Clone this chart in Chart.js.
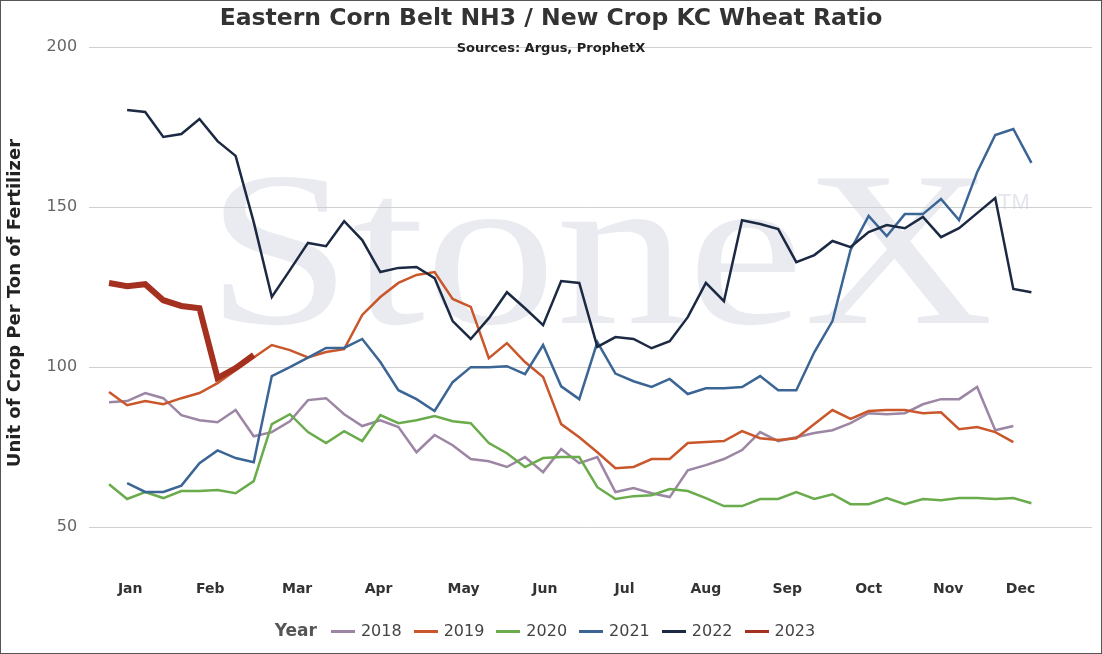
<!DOCTYPE html>
<html>
<head>
<meta charset="utf-8">
<script src="https://cdn.jsdelivr.net/npm/chart.js@4.4.1/dist/chart.umd.min.js"></script>
<style>
  body { margin: 0; background: #fff; font-family: Verdana, "DejaVu Sans", sans-serif; }
  #wrap { position: relative; width: 1100px; height: 652px; border: 1px solid #555; overflow: hidden; }
  #titulo { position: absolute; top: 2px; left: 0; width: 1100px; text-align: center; font-weight: bold; font-size: 23.5px; color: #333; }
  #fuente { position: absolute; top: 39px; left: 0; width: 1100px; text-align: center; font-weight: bold; font-size: 13px; color: #222; }
  #leyenda { position: absolute; top: 619px; left: 0; width: 1100px; text-align: center; font-size: 16px; color: #444; }
  #leyenda b { color: #555; margin-right: 14px; font-size: 17px; }
  #leyenda span { margin-right: 12px; }
  #leyenda i { display: inline-block; width: 24px; height: 3px; vertical-align: middle; margin-right: 6px; }
</style>
</head>
<body>
<div id="wrap">
  <canvas id="grafico" width="1100" height="652"></canvas>
  <div id="titulo">Eastern Corn Belt NH3 / New Crop KC Wheat Ratio</div>
  <div id="fuente">Sources: Argus, ProphetX</div>
  <div id="leyenda"></div>
</div>
<script>
// ===============================
// DATOS
// ===============================

const meses = ["Jan", "Feb", "Mar", "Apr", "May", "Jun", "Jul", "Aug", "Sep", "Oct", "Nov", "Dec"];
const posicionMeses = [1.17, 5.6, 10.4, 14.9, 19.6, 24.1, 28.5, 33, 37.5, 42, 46.4, 50.4];
const ticksY = [50, 100, 150, 200];

const anios = ["2018", "2019", "2020", "2021", "2022", "2023"];
const semanaInicio = [0, 0, 0, 1, 1, 0];

const datos2018 = [89, 89.4, 91.9, 90.3, 85, 83.4, 82.8, 86.6, 78.4, 79.7, 83.1, 89.7, 90.3, 85.3, 81.6, 83.4, 81.3, 73.4, 78.8, 75.6, 71.3, 70.6, 68.8, 71.9, 67.2, 74.4, 70, 71.9, 61, 62.2, 60.6, 59.4, 67.8, 69.4, 71.3, 74.1, 79.7, 76.9, 78.1, 79.4, 80.3, 82.5, 85.6, 85.3, 85.6, 88.4, 90, 90, 93.8, 80.3, 81.6];
const datos2019 = [92.2, 88.1, 89.4, 88.4, 90.3, 91.9, 95, 99, 103, 106.9, 105.3, 103, 104.7, 105.6, 116.3, 121.9, 126.3, 128.8, 129.7, 121.3, 118.8, 102.8, 107.5, 101.6, 96.9, 82.2, 78.1, 73.4, 68.4, 68.8, 71.3, 71.3, 76.3, 76.6, 76.9, 80, 77.8, 77.2, 77.8, 82.2, 86.6, 83.8, 86.3, 86.6, 86.6, 85.6, 85.9, 80.6, 81.3, 79.7, 76.6];
const datos2020 = [63.4, 58.8, 61, 59.1, 61.3, 61.3, 61.6, 60.6, 64.4, 82.2, 85.3, 79.7, 76.3, 80, 76.9, 85, 82.5, 83.4, 84.7, 83.1, 82.5, 76.3, 73.1, 68.8, 71.6, 71.9, 71.9, 62.5, 58.8, 59.7, 60, 61.9, 61.3, 59.1, 56.6, 56.6, 58.8, 58.8, 61, 58.8, 60.3, 57.2, 57.2, 59.1, 57.2, 58.8, 58.4, 59.1, 59.1, 58.8, 59.1, 57.5];
const datos2021 = [63.8, 61, 61, 63, 70, 74, 71.6, 70.3, 97.2, 100, 103, 106, 106, 108.8, 101.6, 92.8, 90, 86.3, 95.3, 100, 100, 100.3, 97.8, 106.9, 94, 90, 107.8, 98, 95.6, 93.8, 96.3, 91.6, 93.4, 93.4, 93.8, 97.2, 92.8, 92.8, 104.7, 114.4, 136.6, 147.2, 140.9, 147.8, 147.8, 152.5, 145.9, 160.9, 172.5, 174.4, 163.8];
const datos2022 = [180.3, 179.7, 171.9, 172.8, 177.5, 170.6, 166, 145.3, 121.9, 130.3, 138.8, 137.8, 145.6, 139.7, 129.7, 131, 131.3, 127.8, 114.4, 108.8, 115.3, 123.4, 118.4, 113.1, 126.9, 126.3, 106.3, 109.4, 108.8, 105.9, 108.1, 115.6, 126.3, 120.6, 145.9, 144.7, 143.1, 132.8, 135, 139.4, 137.5, 142.2, 144.4, 143.4, 146.9, 140.6, 143.4, 148.1, 152.8, 124.4, 123.4];
const datos2023 = [126.3, 125.3, 125.9, 120.9, 119.1, 118.4, 96.6, 99.7, 103.8];

const series = [datos2018, datos2019, datos2020, datos2021, datos2022, datos2023];
const colores = ["#9c86a4", "#c9572b", "#6aab4c", "#3b6595", "#1c2942", "#a4301f"];
const grosores = [2.5, 2.5, 2.5, 2.5, 2.5, 6];

// ===============================
// MARCA DE AGUA
// ===============================

const marcaAgua = {
  id: "marcaAgua",
  beforeDatasetsDraw(chart) {
    const c = chart.ctx;
    c.save();
    c.fillStyle = "rgba(200, 205, 218, 0.4)";
    c.translate(205, 322);
    c.scale(1.25, 1.05);
    c.font = "210px 'Liberation Serif', serif";
    c.fillText("StoneX", 0, 0);
    c.restore();
    c.save();
    c.fillStyle = "rgba(200, 205, 218, 0.5)";
    c.font = "22px 'Liberation Sans', sans-serif";
    c.fillText("TM", 997, 208);
    c.restore();
  }
};

// ===============================
// GRÁFICA
// ===============================

const conjuntos = anios.map(function (anio, i) {
  return {
    label: anio,
    data: series[i].map(function (v, j) { return { x: j + semanaInicio[i], y: v }; }),
    borderColor: colores[i],
    backgroundColor: colores[i],
    borderWidth: grosores[i],
    pointRadius: 0,
    tension: 0,
    order: i === 5 ? 0 : 6 - i
  };
});

const ctx = document.getElementById("grafico").getContext("2d");

new Chart(ctx, {
  type: "line",
  data: { datasets: conjuntos },
  options: {
    responsive: false,
    animation: false,
    layout: { padding: { top: 46, right: 9, bottom: 41, left: 0 } },
    plugins: { legend: { display: false }, tooltip: { enabled: false } },
    scales: {
      x: {
        type: "linear",
        min: -1.1,
        max: 54.35,
        grid: { display: false },
        border: { display: false },
        afterBuildTicks: function (eje) {
          eje.ticks = posicionMeses.map(function (p) { return { value: p }; });
        },
        ticks: {
          autoSkip: false,
          maxRotation: 0,
          padding: 14,
          color: "#333",
          font: { family: "Verdana, 'DejaVu Sans'", size: 14, weight: "bold" },
          callback: function (valor, indice) { return meses[indice]; }
        }
      },
      y: {
        min: 40,
        max: 200,
        afterBuildTicks: function (eje) {
          eje.ticks = ticksY.map(function (v) { return { value: v }; });
        },
        grid: { color: "#d0d0d0", drawTicks: false },
        border: { display: false },
        ticks: { padding: 12, color: "#666", font: { family: "Verdana, 'DejaVu Sans'", size: 16 } },
        title: {
          display: true,
          text: "Unit of Crop Per Ton of Fertilizer",
          color: "#222",
          font: { family: "Verdana, 'DejaVu Sans'", size: 18, weight: "bold" },
          padding: { top: 4, bottom: 8 }
        }
      }
    }
  },
  plugins: [marcaAgua]
});

// ===============================
// LEYENDA
// ===============================

let htmlLeyenda = "<b>Year</b>";
anios.forEach(function (anio, i) {
  htmlLeyenda += `<span><i style="background:${colores[i]}"></i>${anio}</span>`;
});
document.getElementById("leyenda").innerHTML = htmlLeyenda;
</script>
</body>
</html>
